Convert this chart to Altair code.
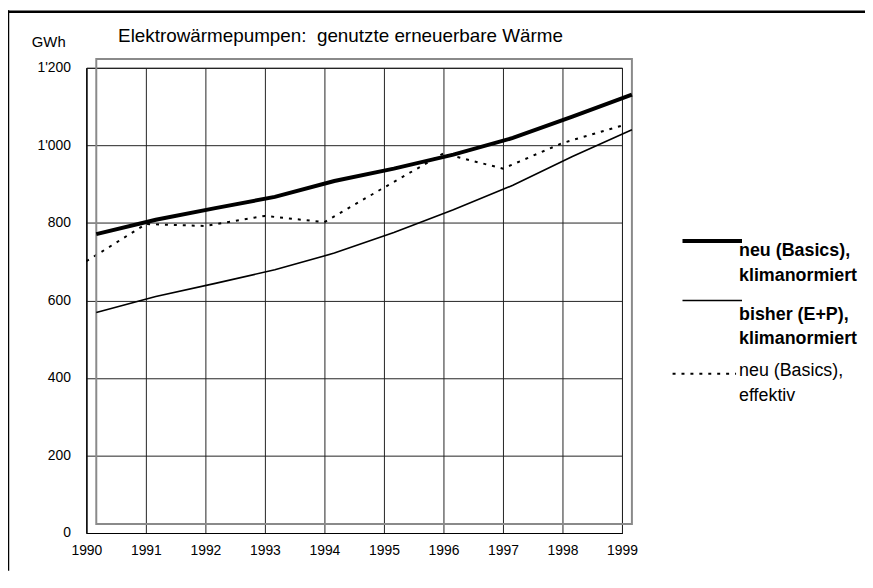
import altair as alt
import pandas as pd

# ---- data ----
years = [1990, 1991, 1992, 1993, 1994, 1995, 1996, 1997, 1998, 1999]
neu_klimanormiert = [748, 785, 815, 844, 885, 917, 953, 996, 1051, 1108]
bisher_klimanormiert = [546, 587, 621, 656, 699, 752, 811, 874, 948, 1017]
neu_effektiv = [701, 797, 792, 818, 802, 891, 979, 940, 1006, 1051]
y_ticks = [0, 200, 400, 600, 800, 1000, 1200]

title_text = "Elektrowärmepumpen:\u00a0 genutzte erneuerbare Wärme"
unit_text = "GWh"
legend_neu_klima = ["neu (Basics),", "klimanormiert"]
legend_bisher = ["bisher (E+P),", "klimanormiert"]
legend_neu_eff = ["neu (Basics),", "effektiv"]

# ---- layout / style ----
W, H = 540, 469
PAD = {"left": 79, "top": 58, "right": 245, "bottom": 38}
FONT = "Liberation Sans"
DX, DY = 10, -9  # offset of the second (grey) frame

xs = alt.Scale(domain=[years[0], years[-1]], nice=False, zero=False)
ys = alt.Scale(domain=[y_ticks[0], y_ticks[-1]], nice=False, zero=True)

df_eff = pd.DataFrame({"year": years, "value": neu_effektiv})
df_neu = pd.DataFrame({"year": years, "value": neu_klimanormiert})
df_bis = pd.DataFrame({"year": years, "value": bisher_klimanormiert})
frame_df = pd.DataFrame({"year": [years[0]], "year2": [years[-1]],
                         "value": [y_ticks[0]], "value2": [y_ticks[-1]]})
one = pd.DataFrame({"k": [0]})

x_axis = alt.Axis(values=years, format="d", title=None, ticks=False,
                  labelPadding=11, labelFontSize=14, labelColor="black",
                  labelFlush=False, domainColor="black", grid=True,
                  gridColor="#222", gridWidth=1, labelFont=FONT)
y_axis = alt.Axis(values=y_ticks,
                  labelExpr="replace(format(datum.value, ','), ',', \"'\")",
                  title=None, ticks=False, labelPadding=16, labelFontSize=14,
                  labelColor="black", domainColor="black", grid=True,
                  gridColor="#222", gridWidth=1, labelFont=FONT)


def X():
    return alt.X("year:Q", scale=xs, axis=x_axis)


def Y():
    return alt.Y("value:Q", scale=ys, axis=y_axis)


eff = alt.Chart(df_eff).mark_line(color="black", strokeWidth=2,
                                  strokeDash=[3, 6]).encode(x=X(), y=Y())

frame = alt.Chart(frame_df).mark_rect(
    fillOpacity=0, stroke="#8a8a8a", strokeWidth=2,
    xOffset=DX, x2Offset=DX, yOffset=DY, y2Offset=DY).encode(
    x=X(), x2="year2:Q", y=Y(), y2="value2:Q",
)

neu = alt.Chart(df_neu).mark_line(color="black", strokeWidth=4,
                                  xOffset=DX, yOffset=DY).encode(x=X(), y=Y())
bis = alt.Chart(df_bis).mark_line(color="black", strokeWidth=1.6,
                                  xOffset=DX, yOffset=DY).encode(x=X(), y=Y())


def rule(x1, x2, y, width, dash=None):
    kw = {"strokeDash": dash} if dash else {}
    return alt.Chart(one).mark_rule(color="black", strokeWidth=width, **kw).encode(
        x=alt.value(x1), x2=alt.value(x2), y=alt.value(y))


def vrule(x, y1, y2, width):
    return alt.Chart(one).mark_rule(color="black", strokeWidth=width).encode(
        x=alt.value(x), y=alt.value(y1), y2=alt.value(y2))


def text(x, y, s, size, weight="normal"):
    return alt.Chart(one).mark_text(text=s, align="left", baseline="alphabetic",
                                    fontSize=size, fontWeight=weight, font=FONT,
                                    color="black").encode(
        x=alt.value(x), y=alt.value(y))


LX = 658
layers = [
    eff, frame, bis, neu,
    # legend
    rule(601, 661, 174.5, 4),
    text(LX, 190, legend_neu_klima[0], 18, "bold"),
    text(LX, 215, legend_neu_klima[1], 18, "bold"),
    rule(601, 661, 234.5, 1.6),
    text(LX, 254, legend_bisher[0], 18, "bold"),
    text(LX, 278, legend_bisher[1], 18, "bold"),
    rule(591, 655, 308.5, 2, [3, 6]),
    text(LX, 311, legend_neu_eff[0], 18),
    text(LX, 336, legend_neu_eff[1], 18),
    # title and unit
    text(32, -26, title_text, 19),
    text(-55, -20.5, unit_text, 15),
    # document borders
    vrule(-78.5, -58, H + PAD["bottom"], 1.5),
    rule(-79, W + PAD["right"], -56.5, 2.5),
]

chart = alt.layer(*layers).properties(
    width=W, height=H, padding=PAD,
    autosize=alt.AutoSizeParams(type="none"),
).configure(font=FONT).configure_view(stroke="black", strokeWidth=1)

chart.save("out.html", embed_options={"renderer": "svg", "actions": False})
